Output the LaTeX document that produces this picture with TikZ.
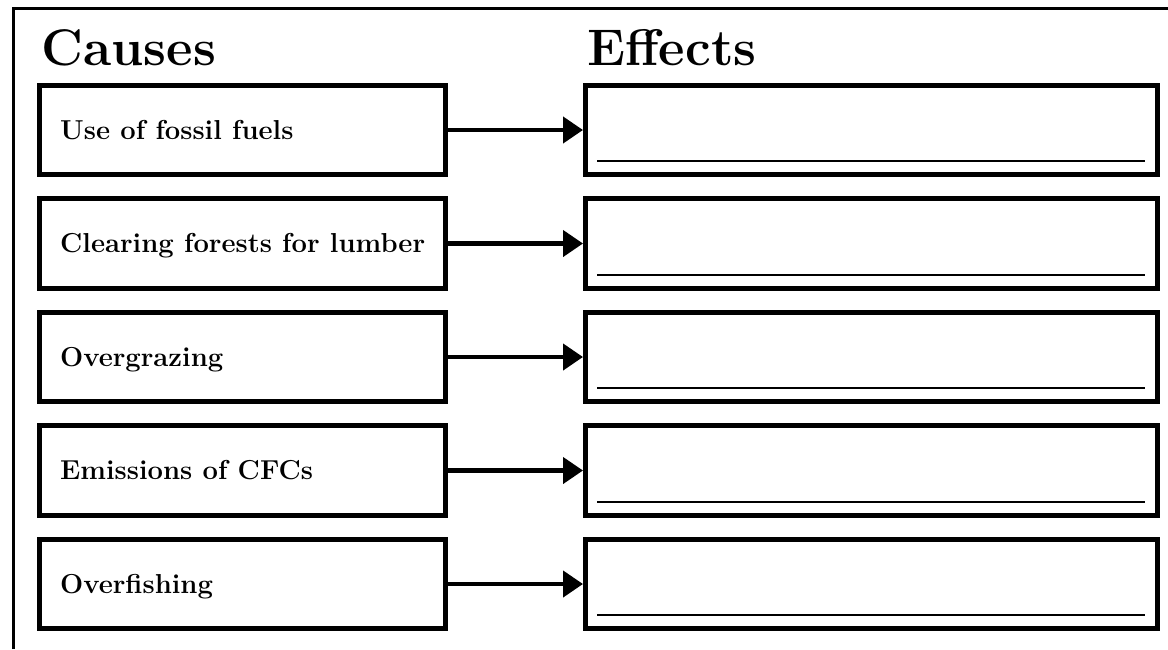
\documentclass[tikz,border=0pt]{standalone}
\usetikzlibrary{arrows.meta}
\begin{document}
\begin{tikzpicture}[x=1pt,y=-1pt,
  causebox/.style={draw,line width=5pt,minimum width=406.5pt,minimum height=89.5pt,inner sep=0pt},
  effectbox/.style={draw,line width=5pt,minimum width=572pt,minimum height=89.5pt,inner sep=0pt},
  causetext/.style={anchor=base west,inner sep=0pt,font=\fontsize{27.4}{31}\selectfont\bfseries},
  headtext/.style={anchor=base west,inner sep=0pt,font=\fontsize{51.5}{60}\selectfont\bfseries},
  link/.style={line width=4.3pt,-{Triangle[length=20pt,width=26pt]}},
  uline/.style={line width=2pt}]
\useasboundingbox (0,0) rectangle (1168,649);
\draw[line width=3pt] (13.5,649) -- (13.5,8.5) -- (1168,8.5);
\node[headtext] (hc) at (41.5,65) {Causes};
\node[headtext] (he) at (587,65) {Effects};
\foreach \i/\t in {1/Use of fossil fuels,2/Clearing forests for lumber,3/Overgrazing,4/Emissions of CFCs,5/Overfishing}{
  \pgfmathsetmacro{\yc}{130+113.5*(\i-1)}
  \node[causebox] (c\i) at (242.25,\yc) {};
  \node[effectbox] (e\i) at (871.5,\yc) {};
  \node[causetext] (t\i) at (60,\yc+9) {\t};
  \draw[link] (c\i.east) -- (e\i.west);
  \draw[uline] ([xshift=14pt,yshift=16pt]e\i.south west) -- ([xshift=-15pt,yshift=16pt]e\i.south east);
}
\end{tikzpicture}
\end{document}
